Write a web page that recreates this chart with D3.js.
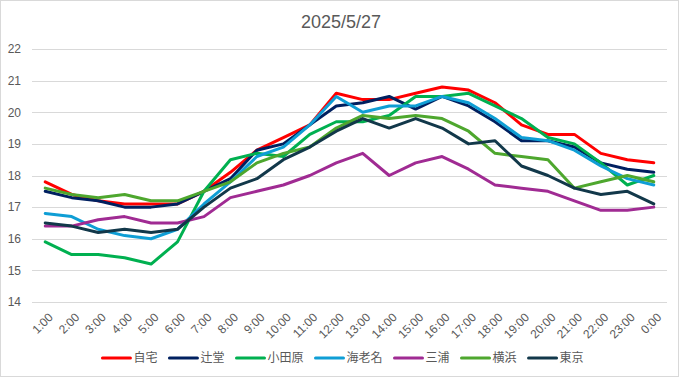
<!DOCTYPE html>
<html><head><meta charset="utf-8">
<script src="https://cdn.jsdelivr.net/npm/d3@7"></script>
<style>
html,body{margin:0;padding:0;background:#fff;}
svg{display:block;}
</style></head>
<body>
<svg id="chart" width="681" height="379"></svg>
<script>
const title = "2025/5/27";
const categories = ["1:00","2:00","3:00","4:00","5:00","6:00","7:00","8:00","9:00","10:00","11:00","12:00","13:00","14:00","15:00","16:00","17:00","18:00","19:00","20:00","21:00","22:00","23:00","0:00"];
const yTicks = [14,15,16,17,18,19,20,21,22];
const seriesNames = ["自宅","辻堂","小田原","海老名","三浦","横浜","東京"];
const seriesColors = ["#FF0000","#002060","#00B050","#0F9ED5","#A02B93","#4EA72E","#12384A"];
const jitaku   = [17.8,17.4,17.2,17.1,17.1,17.1,17.5,18.1,18.8,19.2,19.6,20.6,20.4,20.4,20.6,20.8,20.7,20.3,19.6,19.3,19.3,18.7,18.5,18.4];
const tsujido  = [17.5,17.3,17.2,17.0,17.0,17.1,17.5,17.9,18.8,19.0,19.6,20.2,20.3,20.5,20.1,20.5,20.2,19.7,19.1,19.1,18.9,18.4,18.2,18.1];
const odawara  = [15.9,15.5,15.5,15.4,15.2,15.9,17.5,18.5,18.7,18.6,19.3,19.7,19.7,19.9,20.5,20.5,20.6,20.2,19.8,19.2,19.0,18.4,17.7,18.0];
const ebina    = [16.8,16.7,16.3,16.1,16.0,16.3,17.1,17.8,18.6,18.9,19.6,20.5,20.0,20.2,20.2,20.5,20.3,19.8,19.2,19.1,18.8,18.3,17.9,17.7];
const miura    = [16.4,16.4,16.6,16.7,16.5,16.5,16.7,17.3,17.5,17.7,18.0,18.4,18.7,18.0,18.4,18.6,18.2,17.7,17.6,17.5,17.2,16.9,16.9,17.0];
const yokohama = [17.6,17.4,17.3,17.4,17.2,17.2,17.5,17.8,18.4,18.7,18.9,19.5,19.9,19.8,19.9,19.8,19.4,18.7,18.6,18.5,17.6,17.8,18.0,17.8];
const tokyo    = [16.5,16.4,16.2,16.3,16.2,16.3,17.0,17.6,17.9,18.5,18.9,19.4,19.8,19.5,19.8,19.5,19.0,19.1,18.3,18.0,17.6,17.4,17.5,17.1];
const seriesValues = [jitaku,tsujido,odawara,ebina,miura,yokohama,tokyo];

const W = 681, H = 379;
const plotLeft = 32, plotRight = 667, plotTop = 49, plotBottom = 302;
const svg = d3.select("#chart");
const font = "'Liberation Sans', Arial, 'Noto Sans CJK JP', sans-serif";
const cjkFont = "'Noto Sans CJK JP', 'Liberation Sans', sans-serif";

svg.append("rect").attr("x",0.5).attr("y",0.5).attr("width",W-3).attr("height",H-3)
  .attr("fill","#fff").attr("stroke","#D9D9D9").attr("stroke-width",1);

const x = d3.scalePoint().domain(categories).range([plotLeft, plotRight]).padding(0.5);
const y = d3.scaleLinear().domain([14,22]).range([plotBottom, plotTop]);

// gridlines
svg.append("g").selectAll("line").data(yTicks).join("line")
  .attr("x1",plotLeft).attr("x2",plotRight)
  .attr("y1",d=>Math.round(y(d))+0.5).attr("y2",d=>Math.round(y(d))+0.5)
  .attr("stroke","#D9D9D9").attr("stroke-width",1);

// y axis labels
const yAxis = d3.axisLeft(y).tickValues(yTicks).tickSize(0).tickPadding(0);
const gy = svg.append("g").attr("transform",`translate(21,0)`).call(yAxis);
gy.select(".domain").remove();
gy.selectAll("text").attr("fill","#595959").style("font-family",font).style("font-size","12px");

// x axis labels
const xAxis = d3.axisBottom(x).tickSize(0);
const gx = svg.append("g").attr("transform",`translate(0,${plotBottom})`).call(xAxis);
gx.select(".domain").remove();
gx.selectAll("text")
  .attr("fill","#595959").style("font-family",font).style("font-size","12px")
  .attr("text-anchor","end")
  .attr("x",0).attr("y",0).attr("dy","0.35em")
  .attr("transform","translate(5,13) rotate(-45)");

// lines
const line = d3.line().x((d,i)=>x(categories[i])).y(d=>y(d));
svg.append("g").selectAll("path").data(seriesValues).join("path")
  .attr("d",d=>line(d))
  .attr("fill","none")
  .attr("stroke",(d,i)=>seriesColors[i])
  .attr("stroke-width",3)
  .attr("stroke-linejoin","round")
  .attr("stroke-linecap","round");

// title
svg.append("text").attr("x",341).attr("y",28).attr("text-anchor","middle")
  .attr("fill","#595959").style("font-family",font).style("font-size","18px").text(title);

// legend
const lg = svg.append("g");
let cx = 0;
seriesNames.forEach((n,i)=>{
  const g = lg.append("g");
  g.append("line").attr("x1",0).attr("x2",28).attr("y1",0).attr("y2",0)
    .attr("stroke",seriesColors[i]).attr("stroke-width",3).attr("stroke-linecap","round");
  const t = g.append("text").attr("x",31).attr("y",0).attr("dy","0.35em")
    .attr("fill","#595959").style("font-family",cjkFont).style("font-size","12px").text(n);
  const tw = t.node().getComputedTextLength();
  g.attr("transform",`translate(${cx},0)`);
  cx += 31 + tw + 12;
});
const totalW = cx - 12;
lg.attr("transform",`translate(${343 - totalW/2},358)`);
</script>
</body></html>
